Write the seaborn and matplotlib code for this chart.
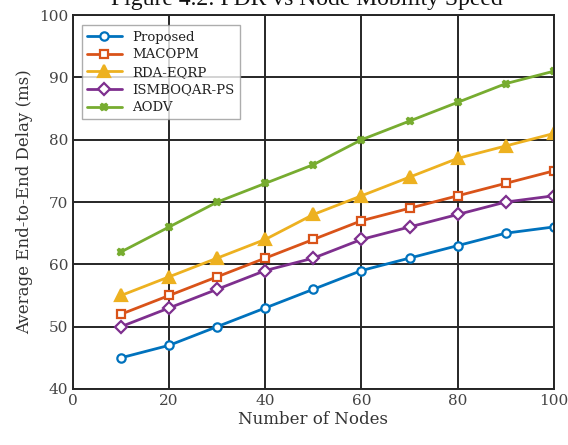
import pandas as pd
import matplotlib.pyplot as plt
import seaborn as sns

# Data
nodes = [10, 20, 30, 40, 50, 60, 70, 80, 90, 100]
proposed = [45, 47, 50, 53, 56, 59, 61, 63, 65, 66]
macopm = [52, 55, 58, 61, 64, 67, 69, 71, 73, 75]
rda_eqrp = [55, 58, 61, 64, 68, 71, 74, 77, 79, 81]
ismboqar_ps = [50, 53, 56, 59, 61, 64, 66, 68, 70, 71]
aodv = [62, 66, 70, 73, 76, 80, 83, 86, 89, 91]

series = {
    'Proposed': proposed,
    'MACOPM': macopm,
    'RDA-EQRP': rda_eqrp,
    'ISMBOQAR-PS': ismboqar_ps,
    'AODV': aodv,
}
colors = {'Proposed': '#0072BD', 'MACOPM': '#D95319', 'RDA-EQRP': '#EDB120',
          'ISMBOQAR-PS': '#7E2F8E', 'AODV': '#77AC30'}
markers = {'Proposed': 'o', 'MACOPM': 's', 'RDA-EQRP': '^',
           'ISMBOQAR-PS': 'D', 'AODV': 'X'}
msizes = {'Proposed': 6, 'MACOPM': 6, 'RDA-EQRP': 8, 'ISMBOQAR-PS': 6, 'AODV': 5}

df = pd.DataFrame([{'Nodes': x, 'Delay': y, 'Method': name}
                   for name, vals in series.items() for x, y in zip(nodes, vals)])

sns.set_style('white')
plt.rcParams['font.family'] = ['DejaVu Serif']

fig = plt.figure(figsize=(5.68, 4.45), dpi=100)
ax = fig.add_axes([0.1285, 0.126, 0.8465, 0.840])

for name in series:
    sub = df[df['Method'] == name]
    face = colors[name] if name in ('RDA-EQRP', 'AODV') else 'white'
    sns.lineplot(data=sub, x='Nodes', y='Delay', ax=ax, color=colors[name],
                 marker=markers[name], markersize=msizes[name], linewidth=2,
                 markerfacecolor=face, markeredgecolor=colors[name],
                 markeredgewidth=1.6, label=name)

ax.set_xlim(0, 100)
ax.set_ylim(40, 100)
ax.set_xticks(range(0, 101, 20))
ax.set_yticks(range(40, 101, 10))
ax.grid(True, color='#262626', linewidth=1.4)
for s in ax.spines.values():
    s.set_color('#262626')
    s.set_linewidth(1.4)
ax.tick_params(labelsize=11, colors='#444444', direction='in', length=0)
ax.set_xlabel('Number of Nodes', fontsize=12, color='#333333', labelpad=2)
ax.set_ylabel('Average End-to-End Delay (ms)', fontsize=12, color='#333333', labelpad=4)

leg = ax.legend(loc='upper left', fontsize=9.5, frameon=True, fancybox=False,
                borderpad=0.4, labelspacing=0.35, handlelength=2.6,
                bbox_to_anchor=(0.005, 0.99))
leg.get_frame().set_edgecolor('#999999')
leg.get_frame().set_linewidth(1.0)
for t in leg.get_texts():
    t.set_color('#222222')

fig.text(0.54, 1.0, 'Figure 4.2: PDR vs Node Mobility Speed', ha='center', va='center',
         fontsize=17, family='Liberation Serif', color='#111111')

fig.savefig('out.png', dpi=100)
